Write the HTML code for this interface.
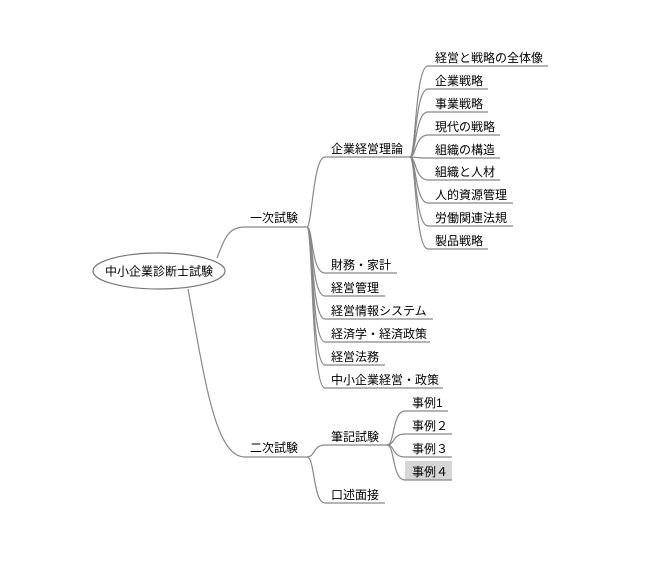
<!DOCTYPE html>
<html><head><meta charset="utf-8"><style>
html,body{margin:0;padding:0;background:#fff}
svg{display:block}
text{font-family:"Liberation Sans","Noto Sans CJK JP",sans-serif;font-size:12px;fill:#000}
path,line{fill:none;stroke:#888;stroke-width:1.2}
</style></head><body>
<svg width="662" height="582" viewBox="0 0 662 582" xmlns="http://www.w3.org/2000/svg">
<!-- root -->
<ellipse cx="159" cy="271" rx="66" ry="18" fill="#fff" stroke="#777" stroke-width="1.2"/>
<text x="159" y="275.5" text-anchor="middle">中小企業診断士試験</text>

<!-- root to 一次 / 二次 -->
<path d="M217 258 C225 238,228 227,245 227 L307 227"/>
<path d="M188 289 C205 380,215 457,245 457 L307 457"/>
<text x="250" y="222">一次試験</text>
<text x="250" y="452">二次試験</text>

<!-- 一次 children -->
<g>
<path d="M307 227 C312 227,313 157,325 157 L410 157"/>
<path d="M307 227 C313 227,311 273,325 273 L397 273"/>
<path d="M307 227 C313 227,311 296,325 296 L385 296"/>
<path d="M307 227 C313 227,311 319,325 319 L433 319"/>
<path d="M307 227 C313 227,311 342,325 342 L430 342"/>
<path d="M307 227 C313 227,311 365,325 365 L385 365"/>
<path d="M307 227 C313 227,311 388,325 388 L443 388"/>
</g>
<text x="331" y="153">企業経営理論</text>
<text x="331" y="269">財務・家計</text>
<text x="331" y="292">経営管理</text>
<text x="331" y="315">経営情報システム</text>
<text x="331" y="338">経済学・経済政策</text>
<text x="331" y="361">経営法務</text>
<text x="331" y="384">中小企業経営・政策</text>

<!-- 企業経営理論 children -->
<g>
<path d="M410 157 C416 157,415 66,428 66 L548 66"/>
<path d="M410 157 C416 157,415 89,428 89 L488 89"/>
<path d="M410 157 C416 157,415 112,428 112 L488 112"/>
<path d="M410 157 C416 157,415 135,428 135 L500 135"/>
<path d="M410 157 C416 157,415 158,428 158 L500 158"/>
<path d="M410 157 C416 157,415 180,428 180 L500 180"/>
<path d="M410 157 C416 157,415 203,428 203 L513 203"/>
<path d="M410 157 C416 157,415 226,428 226 L513 226"/>
<path d="M410 157 C416 157,415 249,428 249 L488 249"/>
</g>
<text x="435" y="62">経営と戦略の全体像</text>
<text x="435" y="85">企業戦略</text>
<text x="435" y="108">事業戦略</text>
<text x="435" y="131">現代の戦略</text>
<text x="435" y="154">組織の構造</text>
<text x="435" y="176">組織と人材</text>
<text x="435" y="199">人的資源管理</text>
<text x="435" y="222">労働関連法規</text>
<text x="435" y="245">製品戦略</text>

<!-- 二次 children -->
<path d="M307 457 C315 457,313 445,325 445 L387 445"/>
<path d="M307 457 C315 457,313 503,325 503 L385 503"/>
<text x="331" y="441">筆記試験</text>
<text x="331" y="499">口述面接</text>

<!-- 筆記 children -->
<rect x="405" y="461" width="47" height="19" fill="#d6d6d6"/>
<path d="M387 445 C395 445,392 411,405 411 L448 411"/>
<path d="M387 445 C395 445,392 434,405 434 L452 434"/>
<path d="M387 445 C395 445,392 457,405 457 L452 457"/>
<path d="M387 445 C395 445,392 480,405 480 L452 480"/>
<text x="412" y="407">事例1</text>
<text x="412" y="430">事例２</text>
<text x="412" y="453">事例３</text>
<text x="412" y="476">事例４</text>
</svg>
</body></html>
